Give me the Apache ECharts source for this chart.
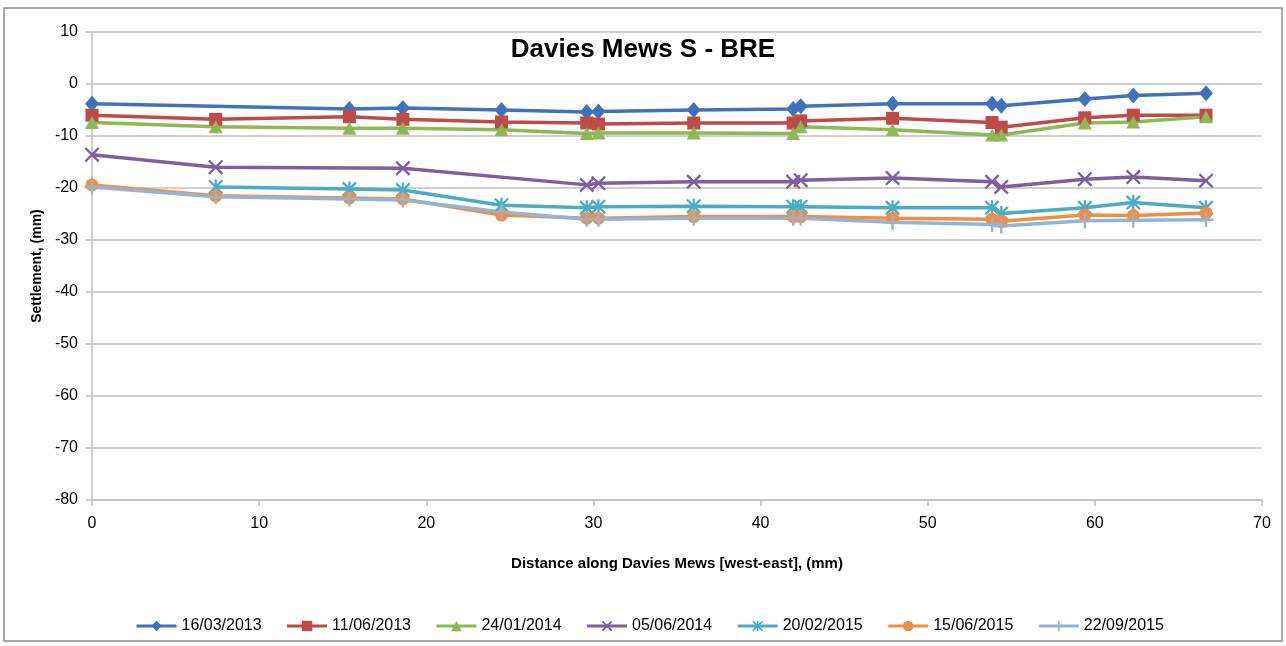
<!DOCTYPE html>
<html>
<head>
<meta charset="utf-8">
<script src="https://cdn.jsdelivr.net/npm/echarts@6/dist/echarts.min.js"></script>
<style>
html,body{margin:0;padding:0;background:#fff;}
#chart{width:1286px;height:646px;}
</style>
</head>
<body>
<div id="chart"></div>
<script>
// Distance along Davies Mews (x positions of survey points)
const distances = [0, 7.4, 15.4, 18.6, 24.5, 29.6, 30.3, 36.0, 41.95, 42.4, 47.9, 53.85, 54.4, 59.4, 62.3, 66.65];
const seriesNames = ['16/03/2013', '11/06/2013', '24/01/2014', '05/06/2014', '20/02/2015', '15/06/2015', '22/09/2015'];
// Settlement values (mm); null = no reading at that point
const s_16_03_2013 = [-3.8, null, -4.8, -4.6, -5.0, -5.4, -5.3, -5.0, -4.8, -4.3, -3.8, -3.8, -4.2, -2.9, -2.2, -1.8];
const s_11_06_2013 = [-6.0, -6.8, -6.3, -6.8, -7.3, -7.5, -7.7, -7.5, -7.5, -7.1, -6.6, -7.4, -8.3, -6.5, -6.0, -6.0];
const s_24_01_2014 = [-7.4, -8.2, -8.5, -8.5, -8.8, -9.5, -9.4, -9.4, -9.5, -8.2, -8.8, -9.8, -9.8, -7.5, -7.3, -6.3];
const s_05_06_2014 = [-13.6, -16.0, null, -16.2, null, -19.4, -19.1, -18.8, -18.8, -18.5, -18.1, -18.8, -19.8, -18.3, -17.9, -18.6];
const s_20_02_2015 = [null, -19.8, -20.2, -20.4, -23.3, -23.8, -23.6, -23.5, -23.6, -23.6, -23.8, -23.8, -24.9, -23.8, -22.8, -23.8];
const s_15_06_2015 = [-19.4, -21.5, -21.9, -22.1, -25.2, -25.8, -25.8, -25.5, -25.5, -25.5, -25.8, -26.0, -26.4, -25.2, -25.3, -24.8];
const s_22_09_2015 = [-19.8, -21.7, -22.1, -22.3, -24.6, -26.0, -26.0, -25.8, -25.8, -25.8, -26.6, -27.0, -27.3, -26.3, -26.2, -26.1];
const yTicks = [10, 0, -10, -20, -30, -40, -50, -60, -70, -80];
const xTicks = [0, 10, 20, 30, 40, 50, 60, 70];

const allValues = [s_16_03_2013, s_11_06_2013, s_24_01_2014, s_05_06_2014, s_20_02_2015, s_15_06_2015, s_22_09_2015];
const colors = ['#3F73B9', '#BE4B48', '#8FB753', '#7D5FA0', '#4AACC6', '#F28F3E', '#95B3D7'];
const SYM_X = 'path://M-0.78,-1 L1,0.78 L0.78,1 L-1,-0.78 Z M0.78,-1 L1,-0.78 L-0.78,1 L-1,0.78 Z';
const SYM_STAR = SYM_X + ' M-0.15,-1 L0.15,-1 L0.15,1 L-0.15,1 Z';
const SYM_PLUS = 'path://M-1,-0.16 L1,-0.16 L1,0.16 L-1,0.16 Z M-0.16,-1 L0.16,-1 L0.16,1 L-0.16,1 Z';
const symbols = ['diamond', 'rect', 'triangle', SYM_X, SYM_STAR, 'circle', SYM_PLUS];
const sizes = [[14, 16], 13, [14, 13], 15, 15, 13, 15];

const FONT = "'Liberation Sans', Arial, sans-serif";

const series = seriesNames.map((name, k) => ({
  name: name,
  type: 'line',
  data: distances.map((x, i) => [x, allValues[k][i]]).filter(p => p[1] !== null),
  symbol: symbols[k],
  symbolSize: sizes[k],
  showAllSymbol: true,
  lineStyle: { color: colors[k], width: 3.5 },
  itemStyle: { color: colors[k] },
  emphasis: { disabled: true },
  animation: false
}));

const chart = echarts.init(document.getElementById('chart'));
chart.setOption({
  animation: false,
  color: colors,
  graphic: [{
    type: 'rect', shape: { x: 4, y: 8, width: 1278, height: 633 },
    style: { fill: 'none', stroke: '#8c8c8c', lineWidth: 1.5 }, z: -1
  }],
  title: {
    text: 'Davies Mews S - BRE', left: 'center', top: 37, padding: 0,
    textStyle: { fontFamily: FONT, fontWeight: 'bold', fontSize: 26, color: '#000' }
  },
  grid: { left: 92, right: 24, top: 32, bottom: 146, containLabel: false },
  xAxis: {
    type: 'value', min: xTicks[0], max: xTicks[xTicks.length - 1], interval: 10,
    name: 'Distance along Davies Mews [west-east], (mm)', nameLocation: 'middle', nameGap: 56,
    nameTextStyle: { fontFamily: FONT, fontWeight: 'bold', fontSize: 15, color: '#000' },
    axisLine: { show: true, onZero: false, lineStyle: { color: '#BFBFBF', width: 1.5 } },
    axisTick: { show: true, length: 6, lineStyle: { color: '#BFBFBF', width: 1.5 } },
    axisLabel: { fontFamily: FONT, fontSize: 16, color: '#000', margin: 16 },
    splitLine: { show: false }
  },
  yAxis: {
    type: 'value', min: yTicks[yTicks.length - 1], max: yTicks[0], interval: 10,
    name: 'Settlement, (mm)', nameLocation: 'middle', nameGap: 46,
    nameTextStyle: { fontFamily: FONT, fontWeight: 'bold', fontSize: 14, color: '#000' },
    axisLine: { show: true, onZero: false, lineStyle: { color: '#BFBFBF', width: 1.5 } },
    axisTick: { show: true, length: 6, lineStyle: { color: '#BFBFBF', width: 1.5 } },
    axisLabel: { fontFamily: FONT, fontSize: 16, color: '#000', margin: 14 },
    splitLine: { show: true, lineStyle: { color: '#BFBFBF', width: 1.5 } }
  },
  legend: {
    data: seriesNames, left: 130, top: 613, itemWidth: 40, itemHeight: 13, itemGap: 24,
    lineStyle: { width: 3 },
    textStyle: { fontFamily: FONT, fontSize: 16, color: '#000' },
    selectedMode: false
  },
  series: series
});
</script>
</body>
</html>
